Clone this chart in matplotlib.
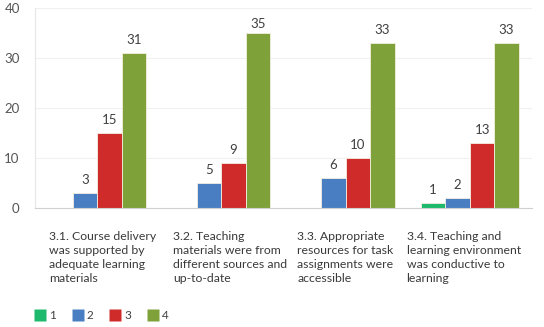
import matplotlib
import matplotlib.pyplot as plt
import numpy as np
from matplotlib.lines import Line2D

matplotlib.rc('font', family=['Lato', 'DejaVu Sans'], size=8.5)

categories = ['3.1. Course delivery\nwas supported by\nadequate learning\nmaterials',
              '3.2. Teaching\nmaterials were from\ndifferent sources and\nup-to-date',
              '3.3. Appropriate\nresources for task\nassignments were\naccessible',
              '3.4. Teaching and\nlearning environment\nwas conductive to\nlearning']
series_names = ['1', '2', '3', '4']
values = [
    [0, 0, 0, 1],
    [3, 5, 6, 2],
    [15, 9, 10, 13],
    [31, 35, 33, 33],
]
colors = ['#1db96c', '#4a7ec2', '#cf2b2b', '#7ea13a']
label_x_shift = [-0.39, -0.39, -0.39, -0.51]

fig = plt.figure(figsize=(5.44, 3.27), dpi=100)
ax = fig.add_axes([35/544, 1 - 208/327, 497/544, 200/327])

x = np.arange(len(categories))
w = 0.197
for i, (name, vals) in enumerate(zip(series_names, values)):
    pos = x + (i - 1.5) * w
    ax.bar(pos, vals, w, color=colors[i], edgecolor='#f4efe0', linewidth=0.6)
    for p, v in zip(pos, vals):
        if v > 0:
            ax.text(p, min(v + 1.4, 35.6), str(v), ha='center', va='bottom',
                    color='#404040', fontsize=9.5)

ax.set_xlim(-0.5, 3.5)
ax.set_ylim(0, 40)
ax.set_yticks([0, 10, 20, 30, 40])
ax.set_xticks([])
ax.tick_params(axis='y', length=0, colors='#555555', labelsize=9.5, pad=11)
ax.yaxis.grid(True, color='#f0f0f0', linewidth=0.8)
ax.set_axisbelow(True)
for s in ['top', 'right']:
    ax.spines[s].set_visible(False)
ax.spines['left'].set_color('#e6e6e6')
ax.spines['bottom'].set_color('#d0d0d0')

for i, lab in enumerate(categories):
    ax.text(i + label_x_shift[i], -4.7, lab, ha='left', va='top', color='#3a3a3a',
            fontsize=8.8, linespacing=1.3)

handles = [Line2D([], [], marker='s', linestyle='none', markersize=9,
                  markerfacecolor=c, markeredgecolor='none') for c in colors]
fig.legend(handles, series_names, loc='center left', bbox_to_anchor=(0.045, 0.035),
           ncol=4, frameon=False, handlelength=0.9, handletextpad=0.3,
           columnspacing=1.4, fontsize=8.5, labelcolor='#404040')

fig.savefig('out.png', dpi=100)
